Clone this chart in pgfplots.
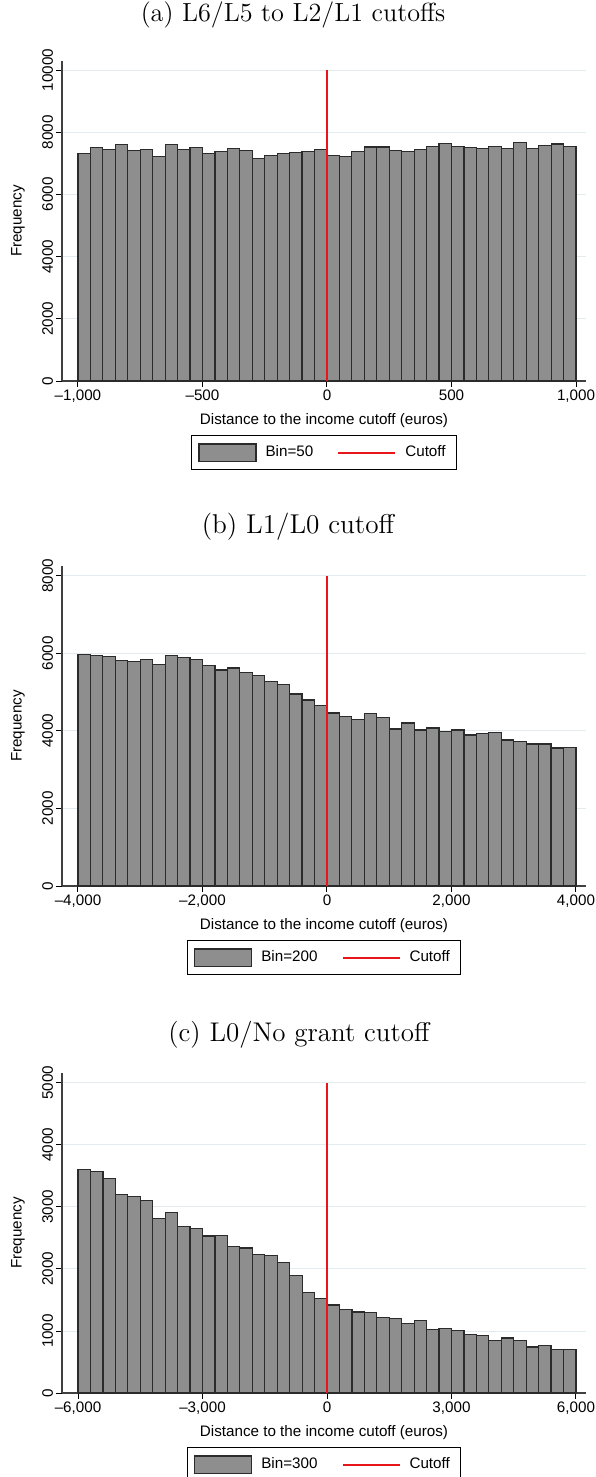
\documentclass[border=0pt]{standalone}
\usepackage{pgfplots}
\pgfplotsset{compat=1.18}
\usepackage{fontspec}
\newfontfamily\arial{Liberation Sans}
\definecolor{barfill}{HTML}{8E8E8E}
\definecolor{bardraw}{HTML}{2B2B2B}
\definecolor{cutred}{HTML}{E8161B}
\definecolor{gridc}{HTML}{E2ECEE}
\definecolor{axc}{HTML}{404040}

\pgfplotsset{
 stata/.style={
  scale only axis, width=262pt, height=160pt,
  axis lines*=left, axis line style={axc, line width=0.6pt, -},
  ymin=0, scaled y ticks=false, scaled x ticks=false,
  ymajorgrids, grid style={gridc, line width=0.5pt},
  tick style={black, line width=0.5pt}, tick align=outside, major tick length=2.8pt,
  font=\arial\fontsize{7.6}{9}\selectfont,
  yticklabel style={rotate=90, anchor=south, inner sep=1.5pt},
  xticklabel style={inner sep=1.5pt},
  every axis y label/.style={at={(axis description cs:-0.084,0.5)}, rotate=90, anchor=center},
  every axis x label/.style={at={(axis description cs:0.5,0)}, anchor=center, yshift=-20pt},
  ylabel={Frequency}, xlabel={Distance to the income cutoff (euros)},
  legend columns=2,
  legend style={at={(axis description cs:0.5,0)}, anchor=north, yshift=-27pt,
    draw=black, line width=0.5pt, inner xsep=3.5pt, inner ysep=3pt,
    font=\arial\fontsize{7.6}{9}\selectfont,
    /tikz/every odd column/.append style={column sep=2.5pt},
    /tikz/every even column/.append style={column sep=10pt}},
  legend cell align=left,
 },
 barplot/.style={ybar interval, fill=barfill, draw=bardraw, line width=0.6pt,
   legend image code/.code={\draw[fill=barfill,draw=bardraw,line width=0.6pt] (0pt,-4.3pt) rectangle (28.5pt,4.3pt);}},
 cutplot/.style={cutred, line width=1pt,
   legend image code/.code={\draw[cutred,line width=1pt] (0pt,0pt) -- (28.5pt,0pt);}},
}

\begin{document}
\begin{tikzpicture}
\useasboundingbox (0,0) rectangle (297.5pt,-738.5pt);
\node[font=\fontsize{13.1}{15}\selectfont, anchor=base] at (146.5pt,-11pt) {(a) L6/L5 to L2/L1 cutoffs};
\node[font=\fontsize{13.6}{15}\selectfont, anchor=base] at (149pt,-266.5pt) {(b) L1/L0 cutoff};
\node[font=\fontsize{13.5}{15}\selectfont, anchor=base] at (149.5pt,-520.5pt) {(c) L0/No grant cutoff};

% ---------------- (a)
\begin{axis}[stata, at={(31pt,-190.5pt)}, anchor=south west,
  xmin=-1064, xmax=1040, ymax=10290,
  xtick={-1000,-500,0,500,1000}, xticklabels={{–1,000},{–500},0,500,{1,000}},
  ytick={0,2000,4000,6000,8000,10000}, yticklabels={0,2000,4000,6000,8000,10000}]
\addplot[barplot] coordinates {
(-1000,7328) (-950,7500) (-900,7457) (-850,7608) (-800,7403) (-750,7446) (-700,7231) (-650,7597)
(-600,7446) (-550,7500) (-500,7317) (-450,7392) (-400,7478) (-350,7403) (-300,7155) (-250,7252)
(-200,7317) (-150,7349) (-100,7381) (-50,7446) (0,7252) (50,7209) (100,7381) (150,7522)
(200,7522) (250,7414) (300,7381) (350,7446) (400,7543) (450,7640) (500,7543) (550,7500)
(600,7478) (650,7543) (700,7489) (750,7662) (800,7489) (850,7575) (900,7619) (950,7532)
(1000,7532)};
\addlegendentry{Bin=50}
\addplot[cutplot] coordinates {(0,0) (0,10000)};
\addlegendentry{Cutoff}
\end{axis}

% ---------------- (b)
\begin{axis}[stata, at={(31pt,-443pt)}, anchor=south west,
  xmin=-4257, xmax=4161, ymax=8250,
  xtick={-4000,-2000,0,2000,4000}, xticklabels={{–4,000},{–2,000},0,{2,000},{4,000}},
  ytick={0,2000,4000,6000,8000}, yticklabels={0,2000,4000,6000,8000}]
\addplot[barplot] coordinates {
(-4000,5968) (-3800,5942) (-3600,5907) (-3400,5812) (-3200,5787) (-3000,5838) (-2800,5701) (-2600,5942)
(-2400,5899) (-2200,5830) (-2000,5683) (-1800,5571) (-1600,5623) (-1400,5502) (-1200,5434) (-1000,5270)
(-800,5192) (-600,4951) (-400,4796) (-200,4650) (0,4461) (200,4374) (400,4297) (600,4443)
(800,4340) (1000,4047) (1200,4202) (1400,4021) (1600,4073) (1800,3978) (2000,4021) (2200,3892)
(2400,3935) (2600,3952) (2800,3763) (3000,3720) (3200,3660) (3400,3660) (3600,3556) (3800,3565)
(4000,3565)};
\addlegendentry{Bin=200}
\addplot[cutplot] coordinates {(0,0) (0,8000)};
\addlegendentry{Cutoff}
\end{axis}

% ---------------- (c)
\begin{axis}[stata, at={(31pt,-696.5pt)}, anchor=south west,
  xmin=-6386, xmax=6241, ymax=5160,
  xtick={-6000,-3000,0,3000,6000}, xticklabels={{–6,000},{–3,000},0,{3,000},{6,000}},
  ytick={0,1000,2000,3000,4000,5000}, yticklabels={0,1000,2000,3000,4000,5000}]
\addplot[barplot] coordinates {
(-6000,3602) (-5700,3570) (-5400,3457) (-5100,3204) (-4800,3172) (-4500,3102) (-4200,2812) (-3900,2914)
(-3600,2683) (-3300,2651) (-3000,2532) (-2700,2538) (-2400,2360) (-2100,2339) (-1800,2231) (-1500,2215)
(-1200,2108) (-900,1892) (-600,1618) (-300,1522) (0,1419) (300,1344) (600,1306) (900,1301)
(1200,1220) (1500,1199) (1800,1124) (2100,1167) (2400,1027) (2700,1043) (3000,1005) (3300,946)
(3600,925) (3900,844) (4200,887) (4500,844) (4800,742) (5100,763) (5400,699) (5700,704)
(6000,704)};
\addlegendentry{Bin=300}
\addplot[cutplot] coordinates {(0,0) (0,5000)};
\addlegendentry{Cutoff}
\end{axis}
\end{tikzpicture}
\end{document}
